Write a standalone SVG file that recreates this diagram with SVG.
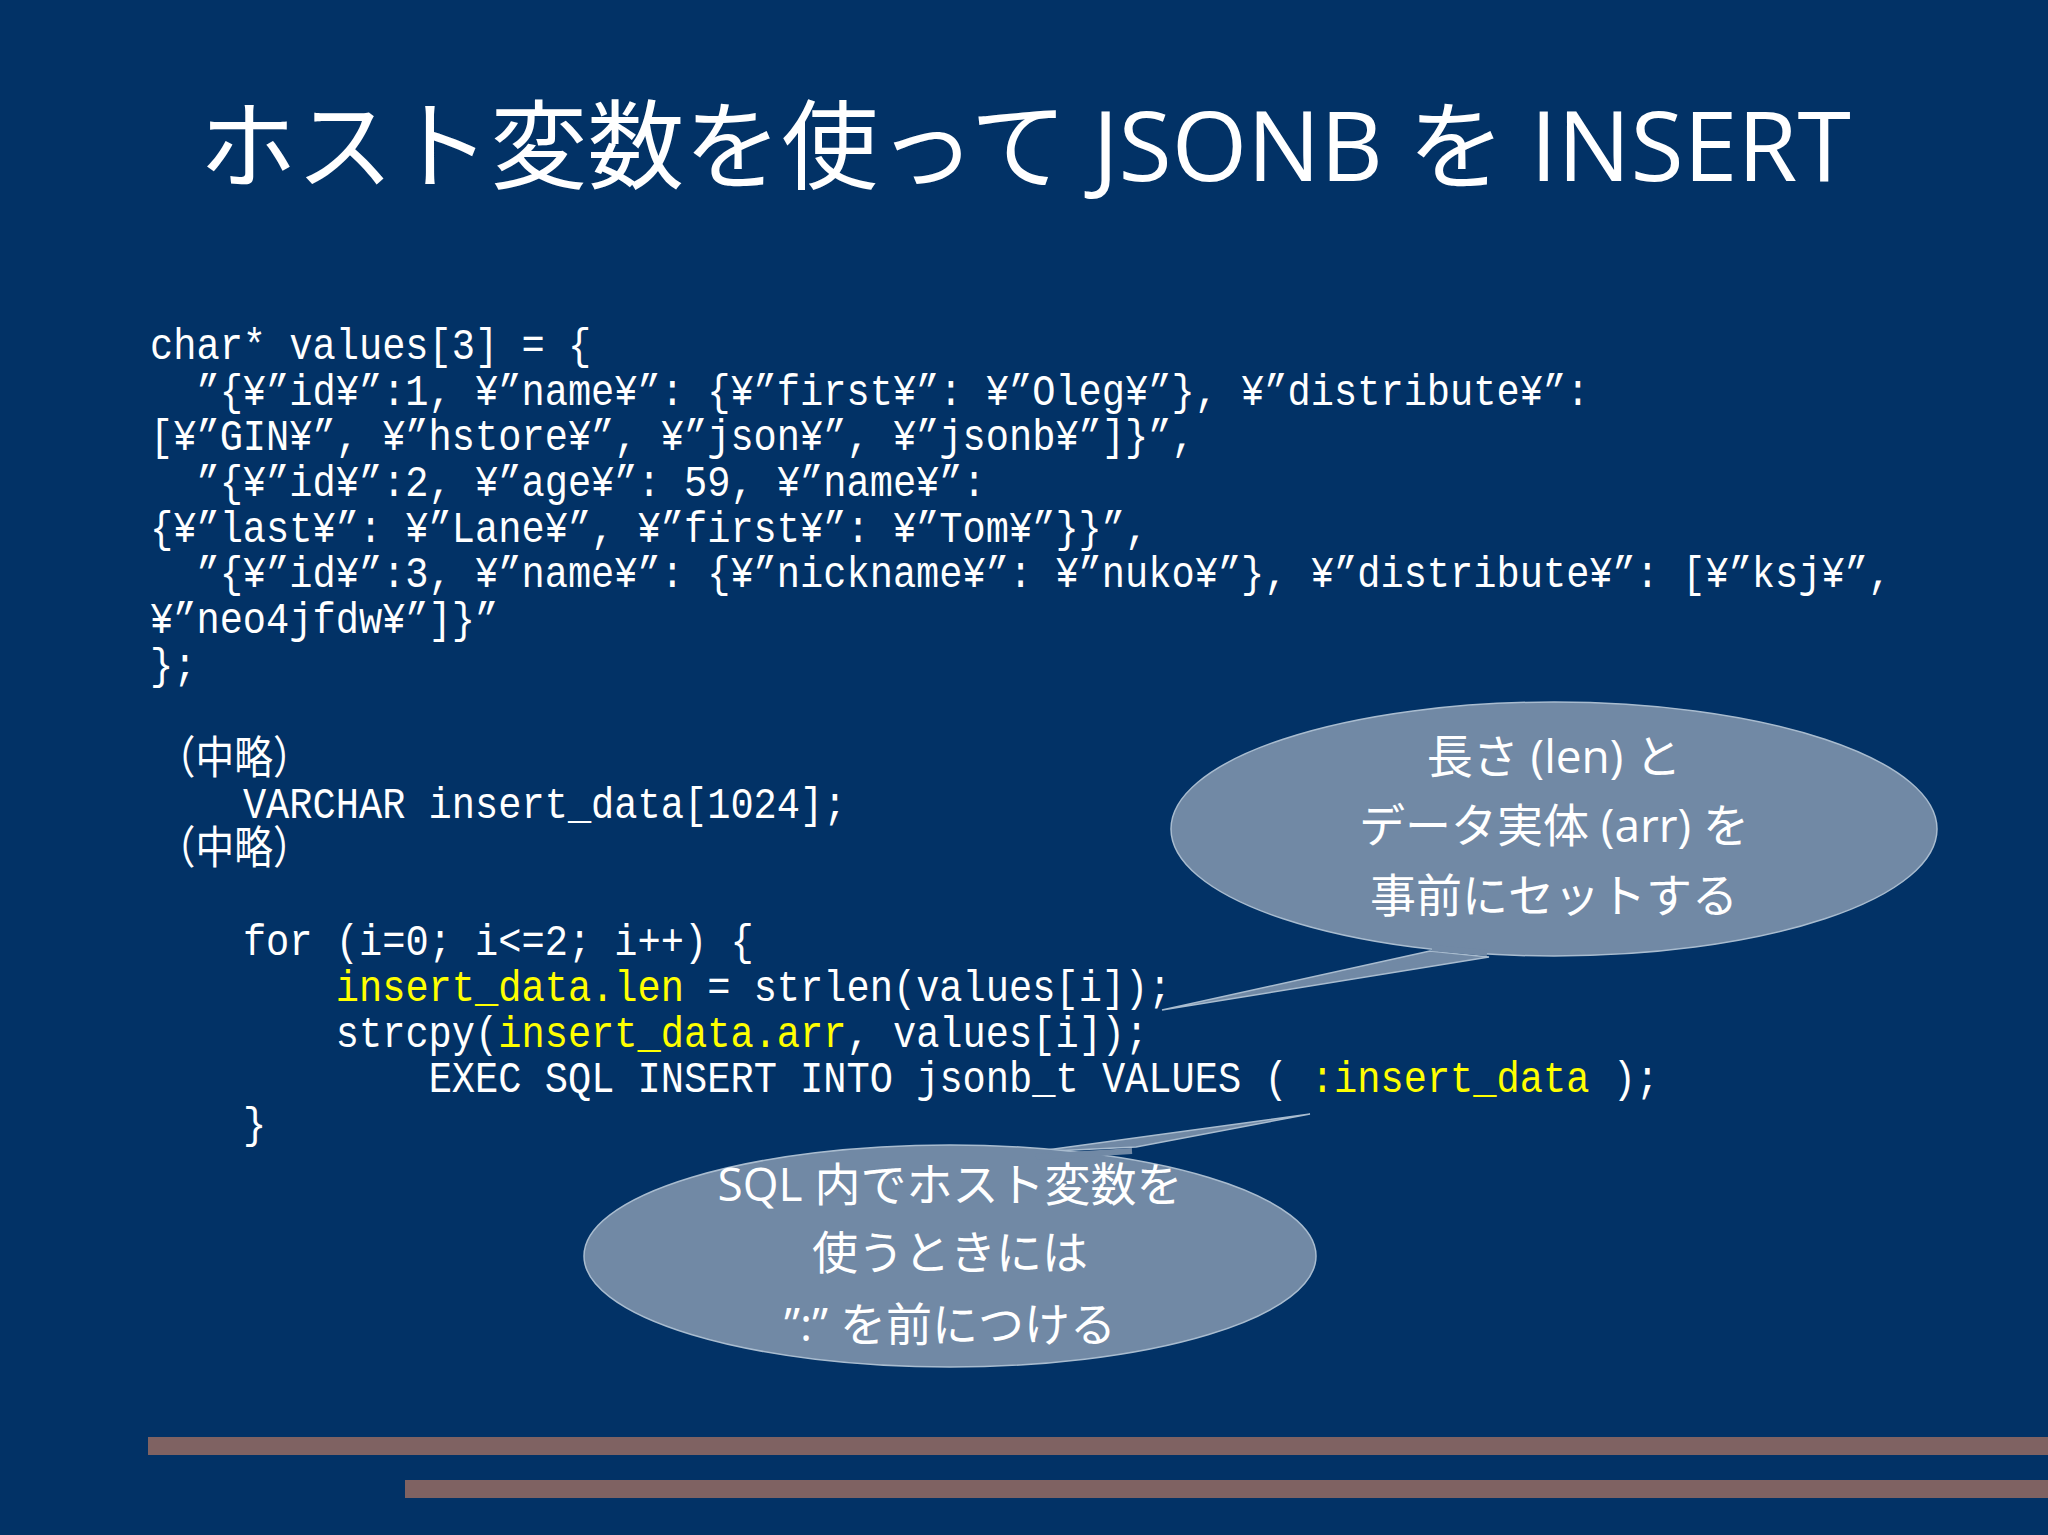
<svg xmlns="http://www.w3.org/2000/svg" width="2048" height="1535" viewBox="0 0 2048 1535">
<style>
.code{font-family:"Liberation Mono","Noto Sans CJK JP",monospace;font-size:45px;fill:#fff;white-space:pre}
.y{fill:#ffff00}
.bub{fill:#7189a5;stroke:#a9bccf;stroke-width:1.5}
.bt{font-family:"Open Sans","Noto Sans CJK JP",sans-serif;font-size:46px;fill:#fff;text-anchor:middle}
</style>
<rect width="2048" height="1535" fill="#023266"/>
<text x="1025" y="181" font-family="Open Sans,'Noto Sans CJK JP',sans-serif" font-size="97" fill="#fff" text-anchor="middle">ホスト変数を使って JSONB を INSERT</text>
<g id="code" transform="translate(150,0) scale(0.86,1)">
<text class="code" x="0" y="359">char* values[3] = {</text>
<text class="code" x="0" y="405">  ”{¥”id¥”:1, ¥”name¥”: {¥”first¥”: ¥”Oleg¥”}, ¥”distribute¥”:</text>
<text class="code" x="0" y="450">[¥”GIN¥”, ¥”hstore¥”, ¥”json¥”, ¥”jsonb¥”]}”,</text>
<text class="code" x="0" y="496">  ”{¥”id¥”:2, ¥”age¥”: 59, ¥”name¥”:</text>
<text class="code" x="0" y="542">{¥”last¥”: ¥”Lane¥”, ¥”first¥”: ¥”Tom¥”}}”,</text>
<text class="code" x="0" y="587">  ”{¥”id¥”:3, ¥”name¥”: {¥”nickname¥”: ¥”nuko¥”}, ¥”distribute¥”: [¥”ksj¥”,</text>
<text class="code" x="0" y="633">¥”neo4jfdw¥”]}”</text>
<text class="code" x="0" y="679">};</text>
<text class="code" x="8" y="774">（中略）</text>
<text class="code" x="108" y="818">VARCHAR insert_data[1024];</text>
<text class="code" x="8" y="864">（中略）</text>
<text class="code" x="108" y="955">for (i=0; i&lt;=2; i++) {</text>
<text class="code" x="216" y="1001"><tspan class="y">insert_data.len</tspan> = strlen(values[i]);</text>
<text class="code" x="216" y="1047">strcpy(<tspan class="y">insert_data.arr</tspan>, values[i]);</text>
<text class="code" x="324" y="1092">EXEC SQL INSERT INTO jsonb_t VALUES ( <tspan class="y">:insert_data</tspan> );</text>
<text class="code" x="108" y="1138">}</text>
</g>
<g id="connectors"/>
<g id="bubble1">
<path class="bub" d="M1430,951 L1162,1010 L1489,957 Z"/>
<ellipse class="bub" cx="1554" cy="829" rx="383" ry="127"/>
<path d="M1432,948 L1487,953" stroke="#7189a5" stroke-width="6"/>
<text class="bt" x="1554" y="773">長さ (len) と</text>
<text class="bt" x="1554" y="842">データ実体 (arr) を</text>
<text class="bt" x="1554" y="912">事前にセットする</text>
</g>
<g id="bubble2">
<path class="bub" d="M1032,1152 L1310,1114 L1136,1147 Z"/>
<ellipse class="bub" cx="950" cy="1256" rx="366" ry="111"/>
<path d="M1036,1157 L1132,1151" stroke="#7189a5" stroke-width="6"/>
<text class="bt" x="950" y="1201">SQL 内でホスト変数を</text>
<text class="bt" x="950" y="1269">使うときには</text>
<text class="bt" x="950" y="1341">”:” を前につける</text>
</g>
<rect x="148" y="1437" width="1900" height="18" fill="#7f6262"/>
<rect x="405" y="1480" width="1643" height="18" fill="#7f6262"/>
</svg>
